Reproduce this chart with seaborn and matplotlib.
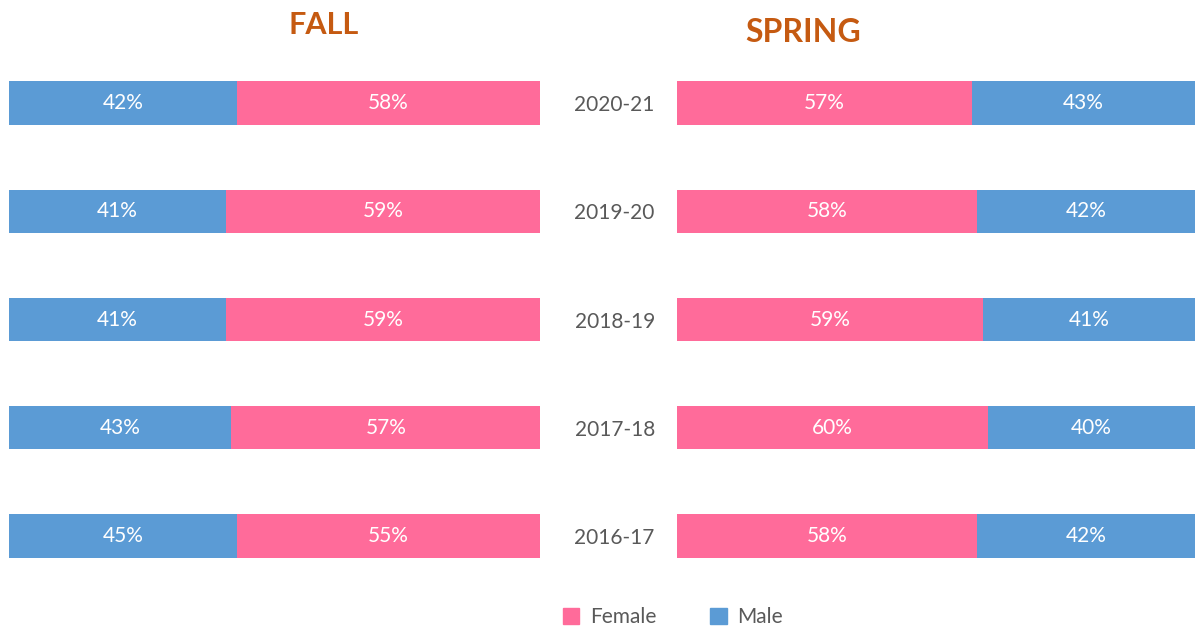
import numpy as np
import pandas as pd
import matplotlib.pyplot as plt
import seaborn as sns
from matplotlib.patches import Patch

sns.set_theme(style="white")
plt.rcParams["font.family"] = ["Lato", "DejaVu Sans"]

# data
years = ["2020-21", "2019-20", "2018-19", "2017-18", "2016-17"]
fall_male = [42.9, 40.9, 40.9, 41.9, 42.9]  # bar lengths as drawn
fall_male_lbl = ["42%", "41%", "41%", "43%", "45%"]
fall_female_lbl = ["58%", "59%", "59%", "57%", "55%"]
spring_female = [57, 58, 59, 60, 58]
spring_female_lbl = ["57%", "58%", "59%", "60%", "58%"]
spring_male_lbl = ["43%", "42%", "41%", "40%", "42%"]

pink = "#FF6B9A"
blue = "#5B9BD5"
grey = "#595959"
title_col = "#C55A11"

W, H = 1195, 628
fig = plt.figure(figsize=(W / 100, H / 100), dpi=100)

top, bot = 49, 590
ax1 = fig.add_axes([9 / W, 1 - bot / H, 531 / W, (bot - top) / H])
ax2 = fig.add_axes([677 / W, 1 - bot / H, 518 / W, (bot - top) / H])

df = pd.DataFrame({"year": years, "fall_male": fall_male,
                   "spring_female": spring_female, "total": 100})

# FALL: male left, female right
sns.barplot(data=df, x="total", y="year", orient="h", color=pink,
            width=0.4, saturation=1, ax=ax1)
sns.barplot(data=df, x="fall_male", y="year", orient="h", color=blue,
            width=0.4, saturation=1, ax=ax1)
for i, v in enumerate(fall_male):
    ax1.text(v / 2, i, fall_male_lbl[i], color="white", fontsize=15,
             ha="center", va="center")
    ax1.text(v + (100 - v) / 2, i, fall_female_lbl[i], color="white",
             fontsize=15, ha="center", va="center")

# SPRING: female left, male right
sns.barplot(data=df, x="total", y="year", orient="h", color=blue,
            width=0.4, saturation=1, ax=ax2)
sns.barplot(data=df, x="spring_female", y="year", orient="h", color=pink,
            width=0.4, saturation=1, ax=ax2)
for i, v in enumerate(spring_female):
    ax2.text(v / 2, i, spring_female_lbl[i], color="white", fontsize=15,
             ha="center", va="center")
    ax2.text(v + (100 - v) / 2, i, spring_male_lbl[i], color="white",
             fontsize=15, ha="center", va="center")

for ax in (ax1, ax2):
    ax.set_xlim(0, 100)
    ax.set_ylim(4.5, -0.5)
    ax.set_xlabel("")
    ax.set_ylabel("")
    ax.set_xticks([])
    sns.despine(ax=ax, left=True, bottom=True)
    for p in ax.patches:
        p.set_edgecolor("none")

ax1.set_yticks([])
ax2.tick_params(axis="y", length=0, pad=16, labelsize=15, labelcolor=grey)

fig.text(324 / W, 1 - 25 / H, "FALL", color=title_col, fontsize=22,
         fontweight="bold", ha="center", va="center")
fig.text(803 / W, 1 - 33 / H, "SPRING", color=title_col, fontsize=23,
         fontweight="bold", ha="center", va="center")

handles = [Patch(color=pink, label="Female"), Patch(color=blue, label="Male")]
fig.legend(handles=handles, loc="center", bbox_to_anchor=(673 / W, 1 - 617 / H),
           ncol=2, frameon=False, fontsize=15, labelcolor=grey,
           handlelength=0.8, handleheight=0.8, handletextpad=0.5,
           columnspacing=2.6)

fig.savefig("out.png", dpi=100)
